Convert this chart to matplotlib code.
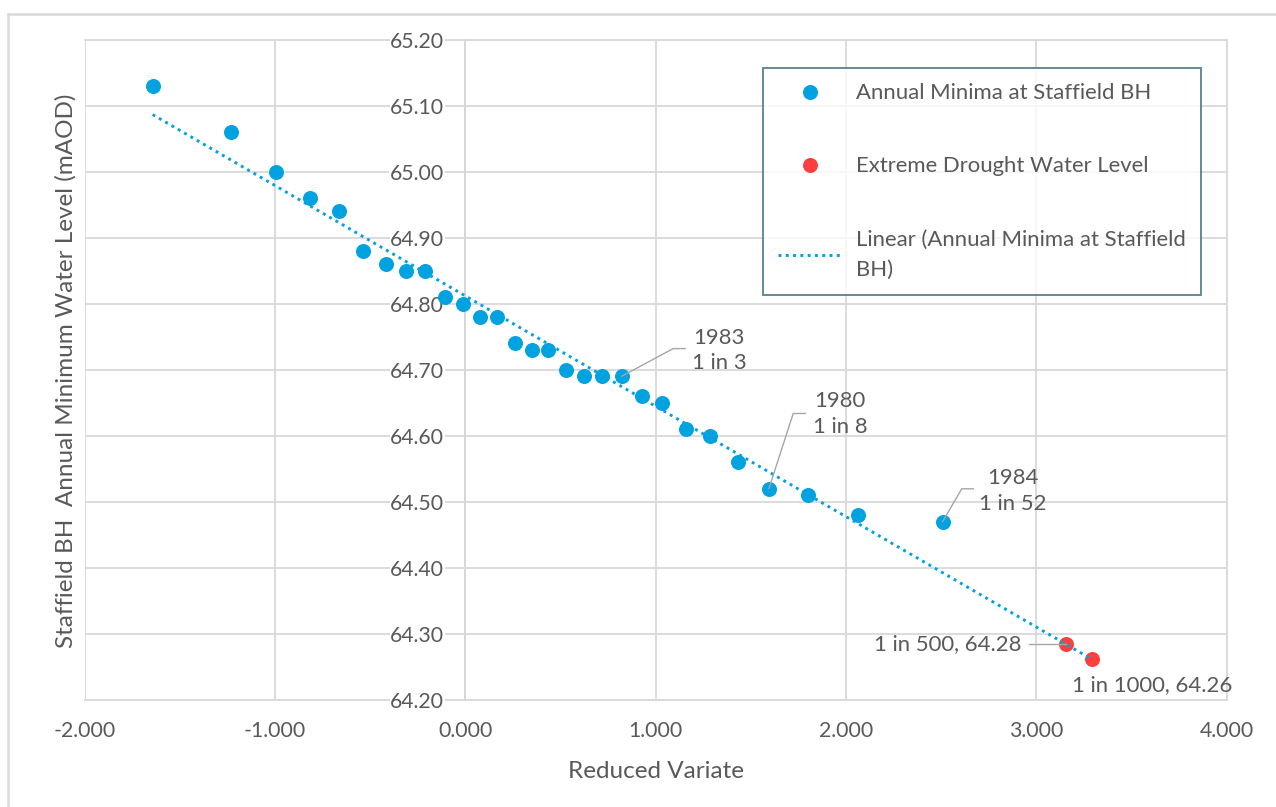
import numpy as np
import matplotlib.pyplot as plt
from matplotlib.lines import Line2D

# ---------------- data ----------------
reduced_variate = [-1.642, -1.232, -0.996, -0.814, -0.665, -0.539, -0.418, -0.309,
                   -0.211, -0.106, -0.013, 0.079, 0.169, 0.263, 0.351, 0.437,
                   0.531, 0.626, 0.720, 0.822, 0.927, 1.036, 1.160, 1.286,
                   1.432, 1.596, 1.799, 2.064, 2.509]
annual_minima = [65.13, 65.06, 65.00, 64.96, 64.94, 64.88, 64.86, 64.85,
                 64.85, 64.81, 64.80, 64.78, 64.78, 64.74, 64.73, 64.73,
                 64.70, 64.69, 64.69, 64.69, 64.66, 64.65, 64.61, 64.60,
                 64.56, 64.52, 64.51, 64.48, 64.47]
extreme_x = [3.157, 3.293]
extreme_y = [64.284, 64.262]
extreme_labels = ["1 in 500, 64.28", "1 in 1000, 64.26"]

event_index = [19, 25, 28]
event_labels = ["1983\n1 in 3", "1980\n1 in 8", "1984\n1 in 52"]

x_ticks = [-2, -1, 0, 1, 2, 3, 4]
y_ticks = [64.2, 64.3, 64.4, 64.5, 64.6, 64.7, 64.8, 64.9, 65.0, 65.1, 65.2]

series_names = ["Annual Minima at Staffield BH", "Extreme Drought Water Level",
                "Linear (Annual Minima at Staffield\nBH)"]

# ---------------- style ----------------
plt.rcParams['font.family'] = ['Lato', 'DejaVu Sans']
TXT = '#595959'
GRID = '#D9D9D9'
BLUE = '#00A2E0'
RED = '#FF3F3F'
FS_TICK = 15.3
FS_LAB = 15.9
FS_TITLE = 17.5

W, H = 1276, 807
fig = plt.figure(figsize=(W / 100, H / 100), dpi=100)
L, R, T, B = 84.5, 1226.5, 39.7, 699.7
ax = fig.add_axes([L / W, 1 - B / H, (R - L) / W, (B - T) / H])

ax.set_xlim(-2, 4)
ax.set_ylim(64.2, 65.2)
ax.set_xticks(x_ticks)
ax.set_yticks(y_ticks)
ax.set_xticklabels([f"{v:.3f}" for v in x_ticks])
ax.set_yticklabels([f"{v:.2f}" for v in y_ticks])
ax.grid(True, color=GRID, lw=1.3, zorder=0)
ax.set_axisbelow(True)
for s in ['top', 'right', 'bottom']:
    ax.spines[s].set_color(GRID)
    ax.spines[s].set_linewidth(1.3)
    ax.spines[s].set_zorder(0.3)
ax.spines['left'].set_position(('data', 0))
ax.spines['left'].set_color('#BFBFBF')
ax.spines['left'].set_linewidth(1.3)
ax.spines['left'].set_zorder(0.3)
ax.tick_params(axis='both', length=0, labelsize=FS_TICK, labelcolor=TXT)
ax.tick_params(axis='y', pad=15)
ax.tick_params(axis='x', pad=15)
for lab in ax.get_yticklabels():
    lab.set_bbox(dict(facecolor='white', edgecolor='none', pad=0.5))

# trendline (least squares over the annual minima, forecast forward)
coef = np.polyfit(reduced_variate, annual_minima, 1)
tx = np.array([min(reduced_variate), max(extreme_x)])
trend, = ax.plot(tx, np.polyval(coef, tx), ls=(0, (1, 1.5)), color=BLUE, lw=2.1, zorder=5)

blue, = ax.plot(reduced_variate, annual_minima, 'o', color=BLUE, ms=10.8, mec='none', zorder=4)
red, = ax.plot(extreme_x, extreme_y, 'o', color=RED, ms=10.8, mec='none', zorder=4)

# ---------------- labels with leader lines ----------------
fig.canvas.draw()
LEAD = '#A6A6A6'


def leader(px, py, offsets):
    X, Y = ax.transData.transform((px, py))
    xs = [(X + dx) / W for dx, dy in offsets]
    ys = [(Y + dy) / H for dx, dy in offsets]
    fig.add_artist(Line2D(xs, ys, color=LEAD, lw=1.0, zorder=6))


leader_offsets = [
    [(0, 0), (51.6, 27.7), (63.6, 27.7)],
    [(0, 0), (24.3, 75), (36.3, 75)],
    [(0, 0), (19, 32.7), (30.6, 32.7)],
]
text_offsets = [(97.3, 25.8), (71, 74.6), (70.3, 30.4)]
for i, lab, lo, to in zip(event_index, event_labels, leader_offsets, text_offsets):
    px, py = reduced_variate[i], annual_minima[i]
    leader(px, py, lo)
    ax.annotate(lab, (px, py), xytext=to, textcoords='offset pixels', ha='center', va='center',
                fontsize=FS_LAB, color=TXT, linespacing=1.35, zorder=7)

leader(extreme_x[0], extreme_y[0], [(-37, 0), (0, 0)])
ax.annotate(extreme_labels[0], (extreme_x[0], extreme_y[0]), xytext=(-44.3, 0),
            textcoords='offset pixels', ha='right', va='center', fontsize=FS_LAB, color=TXT)
ax.annotate(extreme_labels[1], (extreme_x[1], extreme_y[1]), xytext=(60.3, -26.7),
            textcoords='offset pixels', ha='center', va='center', fontsize=FS_LAB, color=TXT)

# axis titles
fig.text(66 / W, 1 - 371 / H, "Staffield BH  Annual Minimum Water Level (mAOD)", rotation=90,
         ha='center', va='center', fontsize=FS_TITLE, color=TXT)
fig.text(655.5 / W, 1 - 771 / H, "Reduced Variate", ha='center', va='center',
         fontsize=FS_TITLE, color=TXT)

# legend
leg = ax.legend([blue, red, trend], series_names, loc='upper left',
                bbox_to_anchor=((763 - L) / (R - L), 1 - (68 - T) / (B - T)),
                borderaxespad=0, frameon=True, fancybox=False, fontsize=FS_LAB,
                labelcolor=TXT, handlelength=2.9, handletextpad=0.6, borderpad=0.7,
                labelspacing=2.4, numpoints=1)
leg.get_frame().set_edgecolor('#3A6F78')
leg.get_frame().set_linewidth(1.4)
for t in leg.get_texts():
    t.set_linespacing(1.65)

# chart border
fig.add_artist(Line2D([8 / W, 1], [1 - 14 / H] * 2, color=GRID, lw=1.8))
fig.add_artist(Line2D([8 / W] * 2, [1 - 14 / H, 0], color=GRID, lw=1.8))

fig.savefig('out.png', dpi=100)
